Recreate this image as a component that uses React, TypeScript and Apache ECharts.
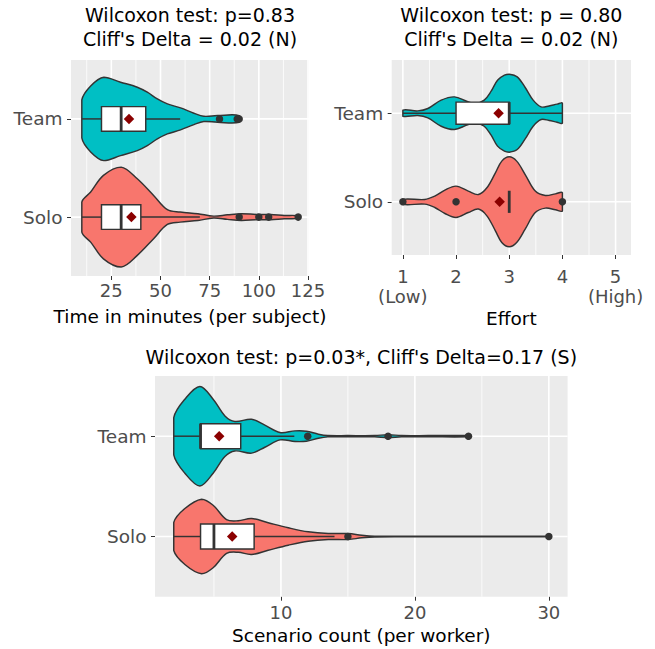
import React, { useEffect, useRef } from "react";
import * as echarts from "echarts";

const FONT = "DejaVu Sans";
const groupLabels = ["Solo", "Team"]; // drawn at y = 1 and y = 2
const groupY = [1, 2];
const groupFill = ["#F8766D", "#00BFC4"];

// ---------- Panel 1: time ----------
const timeTitle = "Wilcoxon test: p=0.83\nCliff's Delta = 0.02 (N)";
const timeAxisName = "Time in minutes (per subject)";
const timeTicks = [25, 50, 75, 100, 125];
const timeTickLabels = ["25", "50", "75", "100", "125"];
const timeMinorTicks = [12.5, 37.5, 62.5, 87.5, 112.5];
const timeSoloViolinX = [10, 14.5, 21, 30, 38.2, 46.5, 53.5, 60, 69, 77, 84, 91, 99, 106, 113, 120];
const timeSoloViolinW = [0.153, 0.255, 0.425, 0.509, 0.39, 0.22, 0.075, 0.051, 0.034, 0.01, 0.023, 0.034, 0.027, 0.027, 0.017, 0.013];
const timeTeamViolinX = [10, 14.5, 21.2, 29.7, 38.2, 43.3, 48.4, 53.5, 60.2, 67, 72, 79, 90];
const timeTeamViolinW = [0.193, 0.336, 0.425, 0.374, 0.323, 0.272, 0.204, 0.153, 0.112, 0.058, 0.027, 0.034, 0.034];
const timeSoloBox = [10, 20, 30, 40, 70]; // lower whisker, Q1, median, Q3, upper whisker
const timeTeamBox = [10, 20, 30, 42.5, 60];
const timeSoloOutliers = [90, 100, 105, 120];
const timeTeamOutliers = [80, 89, 90];
const timeMeans = [35.2, 34]; // Solo, Team

// ---------- Panel 2: effort ----------
const effortTitle = "Wilcoxon test: p = 0.80\nCliff's Delta = 0.02 (N)";
const effortAxisName = "Effort";
const effortTicks = [1, 2, 3, 4, 5];
const effortTickLabels = ["1\n(Low)", "2", "3", "4", "5\n(High)"];
const effortMinorTicks = [1.5, 2.5, 3.5, 4.5];
const effortSoloViolinX = [1, 1.41, 1.6, 1.79, 2, 2.23, 2.42, 2.58, 2.74, 2.86, 3, 3.14, 3.3, 3.49, 3.68, 3.87, 4];
const effortSoloViolinW = [0.028, 0.026, 0.064, 0.132, 0.177, 0.121, 0.082, 0.158, 0.327, 0.459, 0.508, 0.459, 0.308, 0.121, 0.071, 0.09, 0.102];
const effortTeamViolinX = [1, 1.28, 1.47, 1.72, 1.97, 2.2, 2.35, 2.53, 2.66, 2.78, 2.91, 3, 3.15, 3.3, 3.45, 3.6, 3.75, 3.9, 4];
const effortTeamViolinW = [0.034, 0.026, 0.053, 0.147, 0.184, 0.135, 0.107, 0.147, 0.248, 0.372, 0.429, 0.44, 0.41, 0.29, 0.147, 0.071, 0.082, 0.102, 0.111];
const effortSoloBox = [3, 3, 3, 3, 3];
const effortTeamBox = [1, 2, 3, 3, 4];
const effortSoloOutliers = [1, 2, 4];
const effortTeamOutliers: number[] = [];
const effortMeans = [2.82, 2.8];

// ---------- Panel 3: scenarios ----------
const scenTitle = "Wilcoxon test: p=0.03*, Cliff's Delta=0.17 (S)";
const scenAxisName = "Scenario count (per worker)";
const scenTicks = [10, 20, 30];
const scenTickLabels = ["10", "20", "30"];
const scenMinorTicks = [5, 15, 25];
const scenSoloViolinX = [2, 2.83, 4.08, 4.94, 5.94, 6.81, 7.81, 9.05, 10.55, 12.04, 13.53, 15.03, 16.03, 17.02, 20, 25, 30];
const scenSoloViolinW = [0.14, 0.279, 0.372, 0.312, 0.169, 0.157, 0.179, 0.137, 0.087, 0.047, 0.03, 0.03, 0.013, 0.004, 0.003, 0.003, 0.003];
const scenTeamViolinX = [2, 2.83, 3.95, 4.94, 5.82, 6.56, 7.81, 8.8, 9.93, 11.05, 11.9, 12.8, 13.5, 15, 17, 18, 19, 21, 24];
const scenTeamViolinW = [0.186, 0.369, 0.496, 0.369, 0.202, 0.147, 0.169, 0.11, 0.037, 0.053, 0.05, 0.02, 0.007, 0.006, 0.006, 0.015, 0.006, 0.006, 0.006];
const scenSoloBox = [2, 4, 5, 8, 14];
const scenTeamBox = [2, 4, 4, 7, 11];
const scenSoloOutliers = [15, 30];
const scenTeamOutliers = [12, 18, 24];
const scenMeans = [6.36, 5.39];

const Y_MIN = 0.4;
const Y_MAX = 2.6;
const BOX_HALF = 0.125;
const OUTLINE = "#333333";
const LW = 1.45;

type Panel = {
  grid: { left: number; top: number; width: number; height: number };
  xMin: number;
  xMax: number;
  ticks: number[];
  tickLabels: string[];
  minor: number[];
  name: string;
  nameGap: number;
  labelMargin: number;
  labelLineHeight: number;
  title: string;
  titleTop: number;
  violinX: number[][];
  violinW: number[][];
  boxes: number[][];
  outliers: number[][];
  means: number[];
};

const panels: Panel[] = [
  {
    grid: { left: 71, top: 60, width: 238, height: 216 },
    xMin: 4.5, xMax: 125.5,
    ticks: timeTicks, tickLabels: timeTickLabels, minor: timeMinorTicks,
    name: timeAxisName, nameGap: 30, labelMargin: 4.5, labelLineHeight: 20,
    title: timeTitle, titleTop: 3,
    violinX: [timeSoloViolinX, timeTeamViolinX],
    violinW: [timeSoloViolinW, timeTeamViolinW],
    boxes: [timeSoloBox, timeTeamBox],
    outliers: [timeSoloOutliers, timeTeamOutliers],
    means: timeMeans,
  },
  {
    grid: { left: 391.7, top: 60, width: 239.3, height: 195 },
    xMin: 0.79, xMax: 5.29,
    ticks: effortTicks, tickLabels: effortTickLabels, minor: effortMinorTicks,
    name: effortAxisName, nameGap: 53, labelMargin: 12, labelLineHeight: 19.5,
    title: effortTitle, titleTop: 3,
    violinX: [effortSoloViolinX, effortTeamViolinX],
    violinW: [effortSoloViolinW, effortTeamViolinW],
    boxes: [effortSoloBox, effortTeamBox],
    outliers: [effortSoloOutliers, effortTeamOutliers],
    means: effortMeans,
  },
  {
    grid: { left: 155, top: 376, width: 412.6, height: 220.7 },
    xMin: 0.6, xMax: 31.4,
    ticks: scenTicks, tickLabels: scenTickLabels, minor: scenMinorTicks,
    name: scenAxisName, nameGap: 28.6, labelMargin: 6, labelLineHeight: 20,
    title: scenTitle, titleTop: 345,
    violinX: [scenSoloViolinX, scenTeamViolinX],
    violinW: [scenSoloViolinW, scenTeamViolinW],
    boxes: [scenSoloBox, scenTeamBox],
    outliers: [scenSoloOutliers, scenTeamOutliers],
    means: scenMeans,
  },
];

function buildOption() {
  const grids: any[] = [];
  const xAxes: any[] = [];
  const yAxes: any[] = [];
  const titles: any[] = [];
  const series: any[] = [];

  panels.forEach((p, idx) => {
    grids.push({
      ...p.grid,
      show: true,
      backgroundColor: "#EBEBEB",
      borderWidth: 0,
      containLabel: false,
      outerBoundsMode: "none",
    });
    titles.push({
      text: p.title,
      left: p.grid.left + p.grid.width / 2,
      top: p.titleTop,
      textAlign: "center",
      padding: 0,
      textStyle: { fontFamily: FONT, fontSize: 19, fontWeight: "normal", color: "#000", lineHeight: 24 },
    });
    xAxes.push({
      type: "value",
      gridIndex: idx,
      min: p.xMin,
      max: p.xMax,
      axisLine: { show: false },
      axisTick: { show: true, length: 4, customValues: p.ticks, lineStyle: { color: OUTLINE, width: 1 } },
      axisLabel: {
        customValues: p.ticks,
        formatter: (v: number) => p.tickLabels[p.ticks.indexOf(v)] ?? "",
        color: "#4D4D4D",
        fontFamily: FONT,
        fontSize: 18,
        lineHeight: p.labelLineHeight,
        margin: p.labelMargin,
      },
      splitLine: { show: false },
      name: p.name,
      nameLocation: "middle",
      nameGap: p.nameGap,
      nameTextStyle: { fontFamily: FONT, fontSize: 18.5, color: "#000", lineHeight: 20 },
    });
    yAxes.push({
      type: "value",
      gridIndex: idx,
      min: Y_MIN,
      max: Y_MAX,
      axisLine: { show: false },
      axisTick: { show: true, length: 4, customValues: groupY, lineStyle: { color: OUTLINE, width: 1 } },
      axisLabel: {
        customValues: groupY,
        formatter: (v: number) => groupLabels[groupY.indexOf(v)] ?? "",
        color: "#4D4D4D",
        fontFamily: FONT,
        fontSize: 18.5,
        margin: 8.5,
      },
      splitLine: { show: false },
    });

    // panel grid lines
    series.push({
      type: "custom",
      xAxisIndex: idx,
      yAxisIndex: idx,
      z: 1,
      silent: true,
      clip: false,
      data: [[p.xMin, Y_MIN]],
      renderItem: (_params: any, api: any) => {
        const children: any[] = [];
        p.minor.forEach((v) => {
          const a = api.coord([v, Y_MIN]);
          const b = api.coord([v, Y_MAX]);
          children.push({ type: "line", shape: { x1: a[0], y1: a[1], x2: b[0], y2: b[1] }, style: { stroke: "#FFFFFF", lineWidth: 0.8 } });
        });
        p.ticks.forEach((v) => {
          if (v > p.xMax) return;
          const a = api.coord([v, Y_MIN]);
          const b = api.coord([v, Y_MAX]);
          children.push({ type: "line", shape: { x1: a[0], y1: a[1], x2: b[0], y2: b[1] }, style: { stroke: "#FFFFFF", lineWidth: 1.6 } });
        });
        groupY.forEach((g) => {
          const a = api.coord([p.xMin, g]);
          const b = api.coord([p.xMax, g]);
          children.push({ type: "line", shape: { x1: a[0], y1: a[1], x2: b[0], y2: b[1] }, style: { stroke: "#FFFFFF", lineWidth: 1.6 } });
        });
        return { type: "group", children };
      },
    });

    groupY.forEach((g, gi) => {
      const xs = p.violinX[gi];
      const ws = p.violinW[gi];
      // violin
      series.push({
        type: "custom",
        xAxisIndex: idx,
        yAxisIndex: idx,
        z: 2,
        silent: true,
        clip: false,
        data: [[xs[0], g]],
        renderItem: (_params: any, api: any) => {
          const top = xs.map((x, i) => api.coord([x, g + ws[i]]));
          const bottom = xs.map((x, i) => api.coord([x, g - ws[i]])).reverse();
          const pts = top.concat(bottom);
          let minX = Infinity, minY = Infinity, maxX = -Infinity, maxY = -Infinity;
          pts.forEach((q: number[]) => {
            minX = Math.min(minX, q[0]); maxX = Math.max(maxX, q[0]);
            minY = Math.min(minY, q[1]); maxY = Math.max(maxY, q[1]);
          });
          return {
            type: "polygon",
            shape: { points: pts, smooth: 0.35, smoothConstraint: [[minX, minY], [maxX, maxY]] },
            style: { fill: groupFill[gi], stroke: OUTLINE, lineWidth: LW, lineJoin: "round" },
          };
        },
      });
      // box + whiskers
      const b = p.boxes[gi];
      series.push({
        type: "custom",
        xAxisIndex: idx,
        yAxisIndex: idx,
        z: 3,
        silent: true,
        clip: false,
        data: [[b[2], g]],
        renderItem: (_params: any, api: any) => {
          const lo = api.coord([b[0], g]);
          const q1 = api.coord([b[1], g]);
          const q3 = api.coord([b[3], g]);
          const hi = api.coord([b[4], g]);
          const tl = api.coord([b[1], g + BOX_HALF]);
          const br = api.coord([b[3], g - BOX_HALF]);
          const mt = api.coord([b[2], g + BOX_HALF]);
          const mb = api.coord([b[2], g - BOX_HALF]);
          const children: any[] = [];
          if (b[1] > b[0]) children.push({ type: "line", shape: { x1: lo[0], y1: lo[1], x2: q1[0], y2: q1[1] }, style: { stroke: OUTLINE, lineWidth: LW } });
          if (b[4] > b[3]) children.push({ type: "line", shape: { x1: q3[0], y1: q3[1], x2: hi[0], y2: hi[1] }, style: { stroke: OUTLINE, lineWidth: LW } });
          if (b[3] > b[1]) {
            children.push({
              type: "rect",
              shape: { x: tl[0], y: tl[1], width: br[0] - tl[0], height: br[1] - tl[1] },
              style: { fill: "#FFFFFF", stroke: OUTLINE, lineWidth: LW },
            });
          }
          children.push({ type: "line", shape: { x1: mt[0], y1: mt[1], x2: mb[0], y2: mb[1] }, style: { stroke: OUTLINE, lineWidth: 2.8 } });
          return { type: "group", children };
        },
      });
      // outliers
      if (p.outliers[gi].length) {
        series.push({
          type: "scatter",
          xAxisIndex: idx,
          yAxisIndex: idx,
          z: 4,
          silent: true,
          symbol: "circle",
          symbolSize: 7.5,
          itemStyle: { color: OUTLINE, opacity: 1 },
          data: p.outliers[gi].map((v) => [v, g]),
        });
      }
    });
    // means
    series.push({
      type: "scatter",
      xAxisIndex: idx,
      yAxisIndex: idx,
      z: 5,
      silent: true,
      symbol: "diamond",
      symbolSize: 10.5,
      itemStyle: { color: "#8B0000", opacity: 1 },
      data: p.means.map((v, gi) => [v, groupY[gi]]),
    });
  });

  return {
    animation: false,
    backgroundColor: "#FFFFFF",
    textStyle: { fontFamily: FONT },
    title: titles,
    grid: grids,
    xAxis: xAxes,
    yAxis: yAxes,
    series,
  };
}

export default function App() {
  const ref = useRef<HTMLDivElement>(null);
  useEffect(() => {
    if (!ref.current) return;
    const chart = echarts.init(ref.current, undefined, { renderer: "svg" });
    chart.setOption(buildOption() as any);
    return () => chart.dispose();
  }, []);
  return <div ref={ref} style={{ position: "fixed", left: 0, top: 0, width: 655, height: 649 }} />;
}
